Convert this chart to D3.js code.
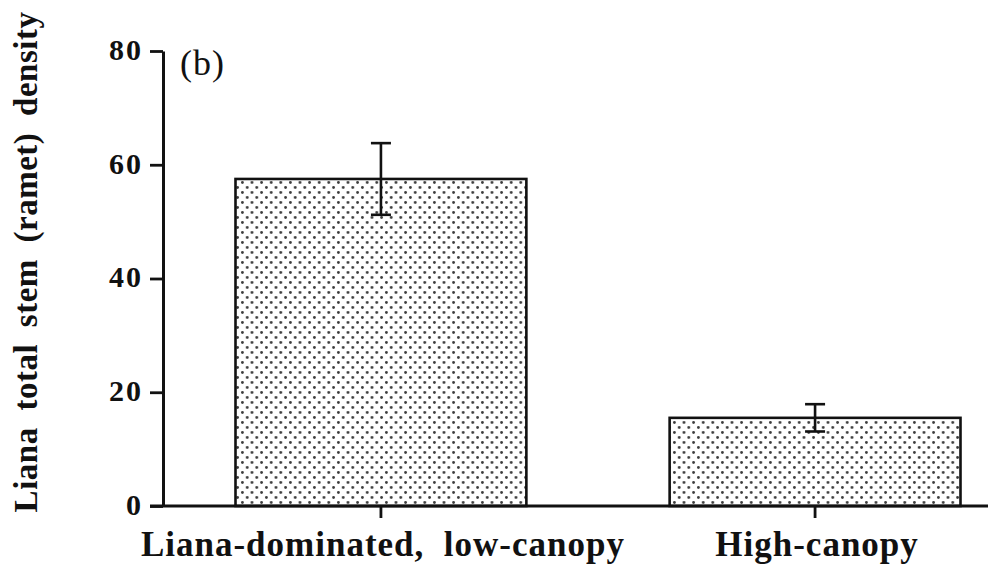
<!DOCTYPE html>
<html>
<head>
<meta charset="utf-8">
<script src="https://cdn.jsdelivr.net/npm/d3@7"></script>
<style>
  html, body { margin: 0; padding: 0; background: #fff; }
  svg { display: block; }
  text { font-family: "Liberation Serif", "Times New Roman", Times, serif; fill: #111; }
</style>
</head>
<body>
<svg id="chart" width="988" height="571"></svg>
<script>
const categories = ["Liana-dominated,  low-canopy", "High-canopy"];
const means = [57.5, 15.5];
const errors = [6.3, 2.4];
const yTicks = [0, 20, 40, 60, 80];
const panelLabel = "(b)";
const yTitle = "Liana total stem (ramet) density";

const svg = d3.select("#chart");
const W = 988, H = 571;
const FONT = "'Liberation Serif', 'Times New Roman', Times, serif";

const y = d3.scaleLinear().domain([0, 80]).range([506, 51]);
const x = d3.scaleBand().domain(categories).range([163, 1033])
  .paddingInner(0.33).paddingOuter(0.167);

// dot pattern
const defs = svg.append("defs");
const pat = defs.append("pattern").attr("id", "dots")
  .attr("patternUnits", "userSpaceOnUse")
  .attr("width", 9.6).attr("height", 10);
pat.append("rect").attr("width", 9.6).attr("height", 10).attr("fill", "#fff");
pat.append("circle").attr("cx", 2.4).attr("cy", 2.5).attr("r", 1.4).attr("fill", "#3a3a3a");
pat.append("circle").attr("cx", 7.2).attr("cy", 7.5).attr("r", 1.4).attr("fill", "#3a3a3a");

// bars
svg.append("g").selectAll("rect").data(categories).join("rect")
  .attr("x", d => x(d))
  .attr("y", (d, i) => y(means[i]))
  .attr("width", x.bandwidth())
  .attr("height", (d, i) => y(0) - y(means[i]))
  .attr("fill", "url(#dots)")
  .attr("stroke", "#111").attr("stroke-width", 2.6);

// error bars
const eb = svg.append("g").attr("stroke", "#111").attr("stroke-width", 2.6);
categories.forEach((c, i) => {
  const cx = x(c) + x.bandwidth() / 2;
  eb.append("line").attr("x1", cx).attr("x2", cx)
    .attr("y1", y(means[i] + errors[i])).attr("y2", y(means[i] - errors[i]));
  eb.append("line").attr("x1", cx - 10).attr("x2", cx + 10)
    .attr("y1", y(means[i] + errors[i])).attr("y2", y(means[i] + errors[i]));
  eb.append("line").attr("x1", cx - 10).attr("x2", cx + 10)
    .attr("y1", y(means[i] - errors[i])).attr("y2", y(means[i] - errors[i]));
});

// y axis
const yAxis = d3.axisLeft(y).tickValues(yTicks).tickSize(13).tickSizeOuter(0).tickPadding(7);
const gy = svg.append("g").attr("transform", "translate(163,0)").call(yAxis)
  .attr("font-family", FONT);
gy.select(".domain").attr("stroke", "#111").attr("stroke-width", 3);
gy.selectAll(".tick line").attr("stroke", "#111").attr("stroke-width", 2.8);
gy.selectAll(".tick text")
  .style("font-family", FONT)
  .attr("font-size", 30).attr("font-weight", "bold")
  .attr("letter-spacing", 2).attr("fill", "#111")
  .attr("dy", "0.28em");

// x axis
const xAxis = d3.axisBottom(x).tickSize(12).tickSizeOuter(0).tickFormat("");
const gx = svg.append("g").attr("transform", "translate(0,506)").call(xAxis);
gx.select(".domain").remove();
gx.selectAll(".tick line").attr("stroke", "#111").attr("stroke-width", 2.8);
svg.append("line").attr("x1", 150).attr("x2", W).attr("y1", 506).attr("y2", 506)
  .attr("stroke", "#111").attr("stroke-width", 3);

// category labels
svg.append("g").selectAll("text").data(categories).join("text")
  .attr("x", d => x(d) + x.bandwidth() / 2 + 2)
  .attr("y", 556)
  .attr("text-anchor", "middle")
  .style("font-family", FONT)
  .attr("font-size", 35).attr("font-weight", "bold")
  .attr("letter-spacing", 1)
  .style("white-space", "pre")
  .text(d => d);

// y title
svg.append("text")
  .attr("transform", "translate(37,262) rotate(-90)")
  .attr("text-anchor", "middle")
  .style("font-family", FONT)
  .attr("font-size", 33).attr("font-weight", "bold")
  .attr("letter-spacing", 0.5).attr("word-spacing", 8)
  .text(yTitle);

// panel label
svg.append("text").attr("x", 180).attr("y", 75)
  .style("font-family", FONT)
  .attr("font-size", 36).attr("letter-spacing", 1)
  .text(panelLabel);
</script>
</body>
</html>
